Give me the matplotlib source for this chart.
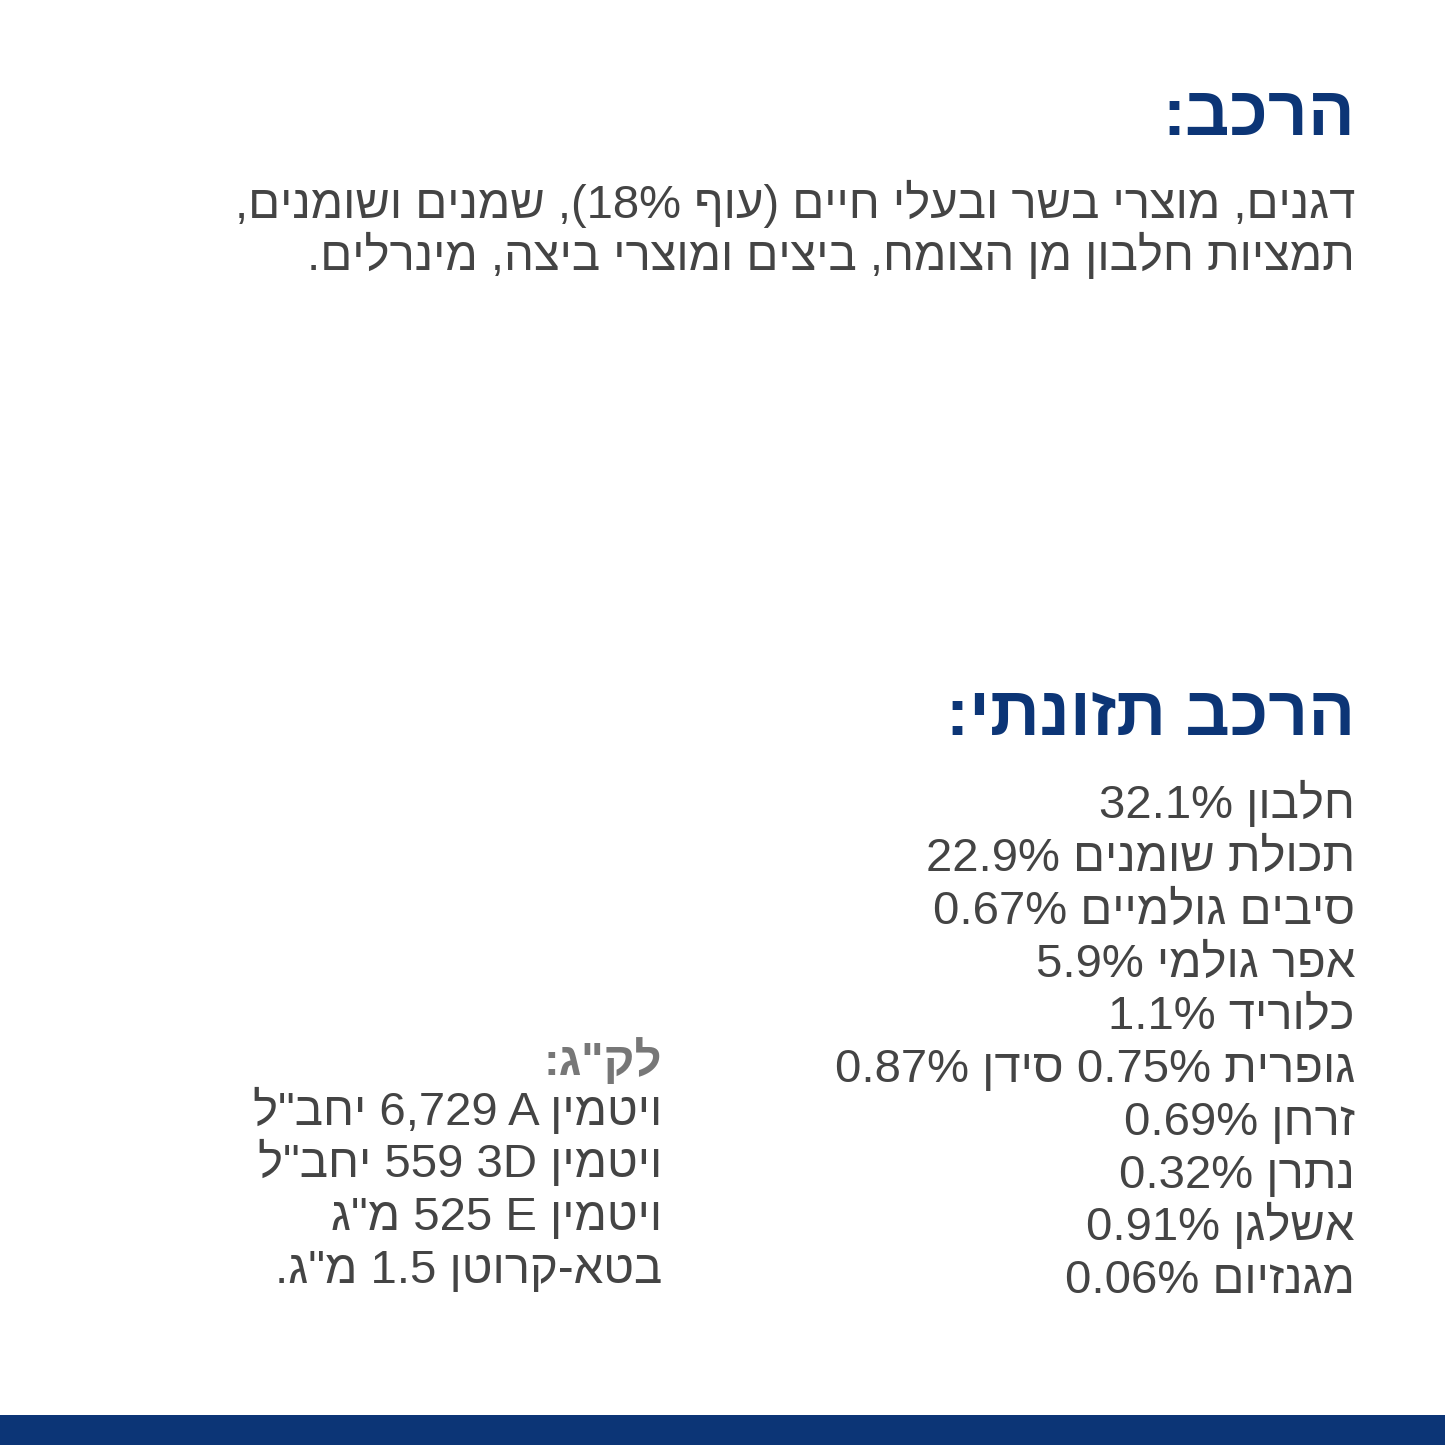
import re
import matplotlib
matplotlib.use("Agg")
import matplotlib.pyplot as plt
from matplotlib.patches import Rectangle

plt.rcParams['font.family'] = ['Liberation Sans', 'DejaVu Sans']

W = H = 1445
NAVY = '#0c3576'
GREY = '#444444'

title_1 = 'הרכב:'
ingredients = [
    'דגנים, מוצרי בשר ובעלי חיים (עוף 18%), שמנים ושומנים,',
    'תמציות חלבון מן הצומח, ביצים ומוצרי ביצה, מינרלים.',
]
title_2 = 'הרכב תזונתי:'
nutrients = [
    'חלבון 32.1%',
    'תכולת שומנים 22.9%',
    'סיבים גולמיים 0.67%',
    'אפר גולמי 5.9%',
    'כלוריד 1.1%',
    'גופרית 0.75% סידן 0.87%',
    'זרחן 0.69%',
    'נתרן 0.32%',
    'אשלגן 0.91%',
    'מגנזיום 0.06%',
]
per_kg_title = 'לק"ג:'
vitamins = [
    'ויטמין A 6,729 יחב"ל',
    'ויטמין 3D 559 יחב"ל',
    'ויטמין E 525 מ"ג',
    'בטא-קרוטן 1.5 מ"ג.',
]

MIRROR = str.maketrans('()', ')(')


def visual(s):
    # crude RTL -> visual order: reverse, then put LTR runs back in order
    r = s[::-1]
    r = re.sub(r'[0-9A-Za-z.,%]*[0-9A-Za-z][0-9A-Za-z.,%]*',
               lambda m: m.group(0)[::-1], r)
    return r.translate(MIRROR)


fig = plt.figure(figsize=(W / 100, H / 100), dpi=100)
fig.patch.set_facecolor('white')


def put(px, py, s, size, color, weight='normal'):
    fig.text(px / W, 1 - py / H, visual(s), ha='right', va='baseline',
             fontsize=size, color=color, fontweight=weight)


put(1355, 135, title_1, 50, NAVY, 'bold')
for i, line in enumerate(ingredients):
    put(1355, 218 + i * 52, line, 34, GREY)

put(1355, 735, title_2, 50, NAVY, 'bold')
for i, line in enumerate(nutrients):
    put(1355, 818 + i * 52.8, line, 34, GREY)

put(662, 1075, per_kg_title, 34, '#777777', 'bold')
for i, line in enumerate(vitamins):
    put(662, 1125 + i * 52.5, line, 34, GREY)

fig.add_artist(Rectangle((0, 0), 1, 30 / H, transform=fig.transFigure,
                         color=NAVY, lw=0))

fig.savefig('out.png', dpi=100, facecolor='white')
